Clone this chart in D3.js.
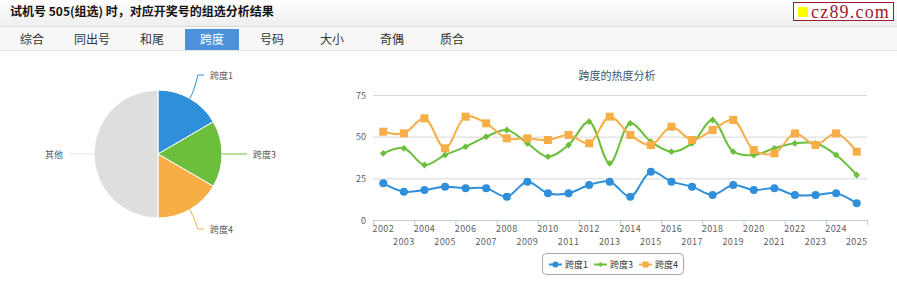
<!DOCTYPE html>
<html>
<head>
<meta charset="utf-8">
<script src="https://cdn.jsdelivr.net/npm/d3@7"></script>
<style>
  body { margin:0; background:#fff; font-family:"Noto Sans CJK SC","Microsoft YaHei",sans-serif; }
  svg { display:block; }
</style>
</head>
<body>
<svg id="viz" width="897" height="287"></svg>
<script>
// 数据
const years = d3.range(2002, 2026).map(String);
const span1 = [22,17,18,20,19,19,14,23,16,16,21,23,14,29,23,20,15,21,18,19,15,15,16,10];
const span3 = [40,43,33,39,44,50,54,46,38,45,59,34,58,47,41,46,60,41,39,43,46,46,39,27];
const span4 = [53,52,61,43,62,58,49,49,48,51,46,62,51,45,56,48,54,60,42,40,52,45,52,41];
const yTicks = [0,25,50,75];
const pieNames = ["跨度1","跨度3","跨度4","其他"];
const pieVals  = [16.6,16.8,16.6,50];
const tabs = ["综合","同出号","和尾","跨度","号码","大小","奇偶","质合"];

const W = 897, H = 287;
const svg = d3.select("#viz");
const FONT = '"Noto Sans CJK SC",sans-serif';

// header
const defs = svg.append("defs");
const grad = defs.append("linearGradient").attr("id","hg").attr("x1",0).attr("x2",0).attr("y1",0).attr("y2",1);
grad.append("stop").attr("offset","0%").attr("stop-color","#ffffff");
grad.append("stop").attr("offset","100%").attr("stop-color","#eeeeee");
svg.append("rect").attr("x",0).attr("y",0).attr("width",W).attr("height",26).attr("fill","url(#hg)");
svg.append("line").attr("x1",0).attr("x2",W).attr("y1",26.5).attr("y2",26.5).attr("stroke","#dcdcdc");
svg.append("text").attr("x",10).attr("y",16).attr("font-size",12).attr("font-weight","bold")
  .attr("font-family",FONT).attr("fill","#111")
  .text("试机号 505(组选) 时，对应开奖号的组选分析结果");

// logo
svg.append("rect").attr("x",793.5).attr("y",2.5).attr("width",100).attr("height",18)
  .attr("fill","#fff").attr("stroke","#a01a2e");
svg.append("rect").attr("x",798).attr("y",7).attr("width",10).attr("height",10).attr("fill","#ffff00");
svg.append("text").attr("x",811).attr("y",17.5).attr("font-size",18)
  .attr("font-family",'"Liberation Serif","DejaVu Serif",serif').attr("fill","#a01a2e")
  .attr("letter-spacing",1.2).text("cz89.com");

// tabs
svg.append("rect").attr("x",0).attr("y",27).attr("width",W).attr("height",23).attr("fill","#f7f7f7");
svg.append("line").attr("x1",0).attr("x2",W).attr("y1",50.5).attr("y2",50.5).attr("stroke","#e2e2e2");
tabs.forEach((t,i) => {
  const cx = 32 + i*60;
  if (t === "跨度") {
    svg.append("rect").attr("x",cx-27).attr("y",29).attr("width",54).attr("height",21).attr("fill","#4d93db");
  }
  svg.append("text").attr("x",cx).attr("y",44).attr("text-anchor","middle")
    .attr("font-size",12).attr("font-family",FONT)
    .attr("fill", t === "跨度" ? "#fff" : "#333").text(t);
});

// pie
const pieColors = ["#2f8fdb","#6cbf3c","#f7ae47","#dedede"];
const pieG = svg.append("g").attr("transform","translate(158,154)");
const R = 64;
const arcs = d3.pie().sort(null).value(d => d)(pieVals);
const arc = d3.arc().innerRadius(0).outerRadius(R);
pieG.selectAll("path").data(arcs).join("path")
  .attr("d", arc).attr("fill",(d,i)=>pieColors[i]).attr("stroke","#fff").attr("stroke-width",1);

// labels with leader lines
const labelPos = [
  {x:210, y:79,  anchor:"start"},
  {x:253, y:158, anchor:"start"},
  {x:210, y:233, anchor:"start"},
  {x:63,  y:158, anchor:"end"}
];
arcs.forEach((a,i) => {
  const mid = (a.startAngle + a.endAngle)/2;
  const px = Math.sin(mid)*R, py = -Math.cos(mid)*R;
  const lp = labelPos[i];
  const lx = lp.x - 158 + (lp.anchor === "start" ? -6 : 6), ly = lp.y - 154 - 4;
  let d;
  if (Math.abs(Math.sin(mid)) > 0.99) {
    d = `M${px},${ly} L${lx},${ly}`;
  } else {
    const ex = px + Math.sin(mid)*8, ey = py - Math.cos(mid)*8;
    d = `M${px},${py} Q${ex},${ey} ${ex + (lx-ex)*0.4},${ly} L${lx},${ly}`;
  }
  pieG.append("path").attr("d", d)
    .attr("fill","none").attr("stroke", i === 3 ? "#e3e3e3" : pieColors[i]).attr("stroke-width",1);
  svg.append("text").attr("x",lp.x).attr("y",lp.y).attr("text-anchor",lp.anchor)
    .attr("font-size",9).attr("font-family",FONT).attr("fill","#555").text(pieNames[i]);
});

// line chart
const L = 373, Rr = 867, T = 95, B = 220;
const x = d3.scaleBand().domain(years).range([L, Rr]);
const y = d3.scaleLinear().domain([0,75]).range([B, T]);

svg.append("text").attr("x",617).attr("y",80).attr("text-anchor","middle")
  .attr("font-size",11).attr("font-family",FONT).attr("fill","#3e576f").text("跨度的热度分析");

const gy = svg.append("g");
yTicks.forEach(v => {
  if (v > 0) gy.append("line").attr("x1",L).attr("x2",Rr).attr("y1",y(v)+0.5).attr("y2",y(v)+0.5)
    .attr("stroke","#d8d8d8");
  gy.append("text").attr("x",366).attr("y",y(v)+3.5).attr("text-anchor","end")
    .attr("font-size",9).attr("font-family",FONT).attr("fill","#606060").text(v);
});

// x axis
const gx = svg.append("g").attr("transform",`translate(0,${B})`);
gx.append("line").attr("x1",L).attr("x2",Rr).attr("y1",0.5).attr("y2",0.5).attr("stroke","#c0d0e0");
years.forEach((yr,i) => {
  if (i % 2 === 0 || i === years.length-1) {
    const tx = (i === years.length-1) ? Rr : x(yr);
    gx.append("line").attr("x1",tx+0.5).attr("x2",tx+0.5).attr("y1",0).attr("y2",5).attr("stroke","#c0d0e0");
  }
  gx.append("text").attr("x",x(yr)+x.bandwidth()/2).attr("y", i%2===0 ? 12 : 25)
    .attr("text-anchor","middle").attr("font-size",9).attr("font-family",FONT)
    .attr("fill","#606060").attr("letter-spacing",0.4).text(yr);
});

const series = [
  {name:"跨度1", data:span1, color:"#2f8fdb", marker:"circle"},
  {name:"跨度3", data:span3, color:"#6cbf3c", marker:"diamond"},
  {name:"跨度4", data:span4, color:"#f7ae47", marker:"square"}
];
const cx = d => x(d) + x.bandwidth()/2;
const line = d3.line().curve(d3.curveCatmullRom.alpha(0.5)).x(d => cx(d[0])).y(d => y(d[1]));

function drawMarker(g, type, px, py, color, s) {
  s = s || 4;
  if (type === "circle") g.append("circle").attr("cx",px).attr("cy",py).attr("r",s).attr("fill",color);
  else if (type === "square") g.append("rect").attr("x",px-s).attr("y",py-s).attr("width",2*s).attr("height",2*s).attr("fill",color);
  else { const d = s*0.85; g.append("path").attr("d",`M${px},${py-d} L${px+d},${py} L${px},${py+d} L${px-d},${py} Z`).attr("fill",color); }
}

const lines = svg.append("g");
series.forEach(s => {
  const pts = years.map((yr,i) => [yr, s.data[i]]);
  lines.append("path").attr("d", line(pts)).attr("fill","none").attr("stroke",s.color).attr("stroke-width",2);
});
series.forEach(s => {
  const g = lines.append("g");
  years.forEach((yr,i) => drawMarker(g, s.marker, cx(yr), y(s.data[i]), s.color));
});

// legend
svg.append("rect").attr("x",542.5).attr("y",253.5).attr("width",141).attr("height",21).attr("rx",4)
  .attr("fill","#fff").attr("stroke","#a8a8a8");
series.forEach((s,i) => {
  const lx = 549 + i*45;
  const g = svg.append("g");
  g.append("line").attr("x1",lx).attr("x2",lx+13).attr("y1",264.5).attr("y2",264.5).attr("stroke",s.color).attr("stroke-width",2);
  drawMarker(g, s.marker, lx+6.5, 264.5, s.color, 3);
  g.append("text").attr("x",lx+16).attr("y",268).attr("font-size",9).attr("font-family",FONT)
    .attr("fill","#333").text(s.name);
});
</script>
</body>
</html>
